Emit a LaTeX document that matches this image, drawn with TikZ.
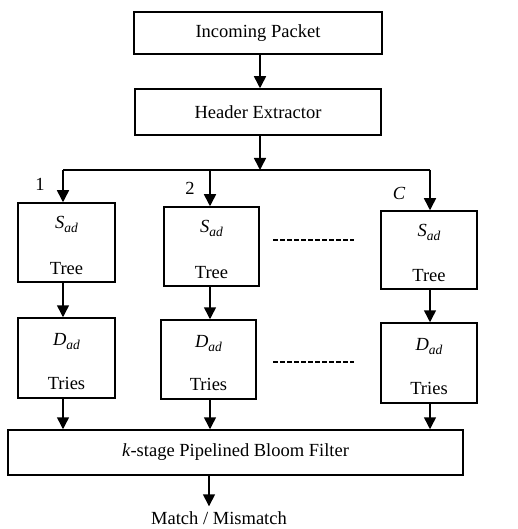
\documentclass[tikz,border=0pt]{standalone}
\usepackage{fontspec}
\setmainfont{Liberation Serif}
\usetikzlibrary{arrows.meta}
\newcommand{\symsub}[2]{\textit{#1}\raisebox{-4pt}{\fontsize{13.5}{14}\selectfont\textit{#2}}}
\begin{document}
\begin{tikzpicture}[x=1pt,y=-1pt,
  box/.style={draw, line width=1.5pt, inner sep=0pt, minimum width=#1},
  lbl/.style={inner sep=0pt, font=\fontsize{18.5}{22}\selectfont},
  arr/.style={line width=1.5pt, -{Triangle[length=12pt,width=12pt]}},
  dotline/.style={line width=1.2pt, dash pattern=on 5pt off 2pt}]
\useasboundingbox (0,0) rectangle (518,529);
% top boxes
\node[box=248, minimum height=42, lbl] (inc) at (258,33) {Incoming Packet};
\node[box=246, minimum height=46, lbl] (hdr) at (258,112) {Header Extractor};
% branch coordinates
\coordinate (jm) at (260,170);
\coordinate (j1) at (63,170);
\coordinate (j2) at (210,170);
\coordinate (jC) at (430,170);
% S boxes
\node[box=97, minimum height=79] (s1) at (66.5,242.5) {};
\node[box=95, minimum height=79] (s2) at (211.5,246.5) {};
\node[box=96, minimum height=78] (sC) at (429,250) {};
\node[lbl] (s1a) at ([yshift=-22pt]s1.north) {\symsub{S}{ad}};
\node[lbl] (s1b) at ([yshift=14pt]s1.south) {Tree};
\node[lbl] (s2a) at ([yshift=-22pt]s2.north) {\symsub{S}{ad}};
\node[lbl] (s2b) at ([yshift=14pt]s2.south) {Tree};
\node[lbl] (sCa) at ([yshift=-22pt]sC.north) {\symsub{S}{ad}};
\node[lbl] (sCb) at ([yshift=14pt]sC.south) {Tree};
% D boxes
\node[box=97, minimum height=80] (d1) at (66.5,358) {};
\node[box=95, minimum height=79] (d2) at (208.5,359.5) {};
\node[box=96, minimum height=80] (dC) at (429,363) {};
\node[lbl] (d1a) at ([yshift=-24pt]d1.north) {\symsub{D}{ad}};
\node[lbl] (d1b) at ([yshift=15pt]d1.south) {Tries};
\node[lbl] (d2a) at ([yshift=-24pt]d2.north) {\symsub{D}{ad}};
\node[lbl] (d2b) at ([yshift=15pt]d2.south) {Tries};
\node[lbl] (dCa) at ([yshift=-24pt]dC.north) {\symsub{D}{ad}};
\node[lbl] (dCb) at ([yshift=15pt]dC.south) {Tries};
% bloom
\node[box=455, minimum height=45, lbl] (bf) at (235.5,452.5) {\textit{k}-stage Pipelined Bloom Filter};
\node[lbl] (out) at (219,518) {Match / Mismatch};
% column labels
\node[lbl] (n1) at (40,184) {1};
\node[lbl] (n2) at (190,188) {2};
\node[lbl] (nC) at (399,193) {\textit{C}};
% dashed separators
\coordinate (da1) at (273,240); \coordinate (da2) at (354,240);
\coordinate (db1) at (273,362); \coordinate (db2) at (354,362);
\draw[dotline] (da1) -- (da2);
\draw[dotline] (db1) -- (db2);
% connectors
\draw[arr] (inc.south -| jm) -- (hdr.north -| jm);
\draw[arr] (hdr.south -| jm) -- (jm);
\draw[line width=1.5pt] (j1) -- (jC);
\draw[arr] (j1) -- (s1.north -| j1);
\draw[arr] (j2) -- (s2.north -| j2);
\draw[arr] (jC) -- (sC.north -| jC);
\draw[arr] (s1.south -| j1) -- (d1.north -| j1);
\draw[arr] (s2.south -| j2) -- (d2.north -| j2);
\draw[arr] (sC.south -| jC) -- (dC.north -| jC);
\draw[arr] (d1.south -| j1) -- (bf.north -| j1);
\draw[arr] (d2.south -| j2) -- (bf.north -| j2);
\draw[arr] (dC.south -| jC) -- (bf.north -| jC);
\coordinate (bo) at (209,475);
\draw[arr] (bo) -- ([yshift=5pt]out.north -| bo);
\end{tikzpicture}
\end{document}
